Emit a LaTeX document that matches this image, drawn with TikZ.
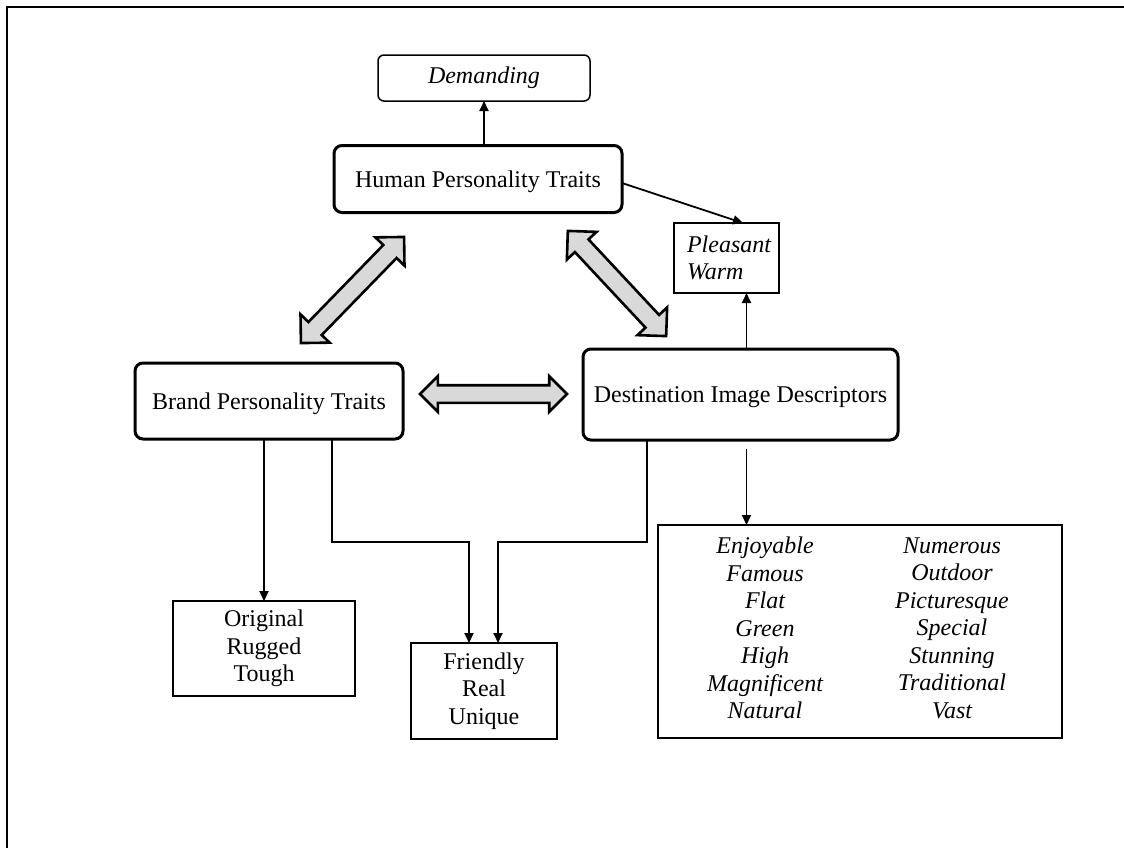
\documentclass[tikz,border=0pt]{standalone}
\usepackage{fontspec}
\setmainfont{Liberation Serif}
\usetikzlibrary{arrows.meta,shapes.arrows,calc}
\definecolor{blockgray}{HTML}{D9D9D9}
\begin{document}
\begin{tikzpicture}[x=1pt,y=-1pt,
  every node/.style={font=\fontsize{24}{27.3}\selectfont, inner sep=0pt, outer sep=0pt},
  mainbox/.style={draw, line width=3pt, rounded corners=8pt, align=center, text depth=0pt},
  tagbox/.style={draw, line width=1.5pt, rounded corners=6pt, align=center},
  listbox/.style={draw, line width=2pt, align=center},
  arr/.style={line width=1.8pt, -{Triangle[length=10pt,width=9pt]}},
  dbl/.style={double arrow, draw, fill=blockgray, line width=2.6pt,
    double arrow tip angle=90, double arrow head extend=11pt,
    double arrow head indent=0pt, inner xsep=0pt, inner ysep=8pt, sloped}]

\useasboundingbox (0,0) rectangle (1124,847);
\clip (0,0) rectangle (1124,847);

% frame
\draw[line width=2pt] (6.5,900) -- (6.5,6.5) -- (1200,6.5);

% boxes
\node[tagbox, minimum width=212pt, minimum height=46pt] (dem) at (484,78) {\itshape Demanding};
\node[mainbox, minimum width=288pt, minimum height=67pt] (hum) at (478,179) {Human Personality Traits};
\node[listbox, minimum width=105pt, minimum height=70pt, align=left, text width=79pt] (ple) at (726.5,258)
  {\itshape Pleasant\\\itshape Warm};
\node[mainbox, minimum width=268pt, minimum height=76pt] (bra) at (269,401) {Brand Personality Traits};
\node[mainbox, minimum width=315pt, minimum height=91pt] (des) at (740.5,394.5) {Destination Image Descriptors};
\node[listbox, minimum width=182pt, minimum height=95pt] (ori) at (264,648.5) {Original\\Rugged\\Tough};
\node[listbox, minimum width=146pt, minimum height=96pt] (fri) at (484,691) {Friendly\\Real\\Unique};
\node[listbox, minimum width=404pt, minimum height=213pt] (dsc) at (860,631.5) {};
\node[align=center, font=\fontsize{24}{27.5}\selectfont\itshape] (dscl) at (765,628)
  {Enjoyable\\Famous\\Flat\\Green\\High\\Magnificent\\Natural};
\node[align=center, font=\fontsize{24}{27.5}\selectfont\itshape] (dscr) at (952,628)
  {Numerous\\Outdoor\\Picturesque\\Special\\Stunning\\Traditional\\Vast};

% thin connectors
\draw[arr] ([xshift=6pt]hum.north) -- ([xshift=6pt]hum.north |- dem.south);
\draw[arr] ([yshift=-4pt]hum.east) -- ([xshift=16.5pt]ple.north);
\draw[arr] ([xshift=6pt]des.north) -- ([xshift=6pt]des.north |- ple.south);
\draw[arr] ([xshift=6pt,yshift=-9pt]des.south) -- ([xshift=6pt]des.south |- dsc.north);
\draw[arr] (bra.south -| ori.north) -- (ori.north);

\coordinate (elbow) at (0,542);
\draw[arr] ([xshift=63pt]bra.south) |- ([xshift=-15pt]fri.north |- elbow) -- ([xshift=-15pt]fri.north);
\draw[arr] ([xshift=-93.5pt]des.south) |- ([xshift=14pt]fri.north |- elbow) -- ([xshift=14pt]fri.north);

% block arrows
\coordinate (a1s) at (300,344);
\coordinate (a1e) at (405,236);
\coordinate (a2s) at (567,230);
\coordinate (a2e) at (667,337);
\coordinate (a3s) at (419,394);
\coordinate (a3e) at (568,394);
\path (a1s) -- node[dbl, minimum height=148pt] (ba1) {} (a1e);
\path (a2s) -- node[dbl, minimum height=144pt] (ba2) {} (a2e);
\path (a3s) -- node[dbl, minimum height=147pt, inner ysep=7.5pt, double arrow head extend=9pt] (ba3) {} (a3e);

\end{tikzpicture}
\end{document}
